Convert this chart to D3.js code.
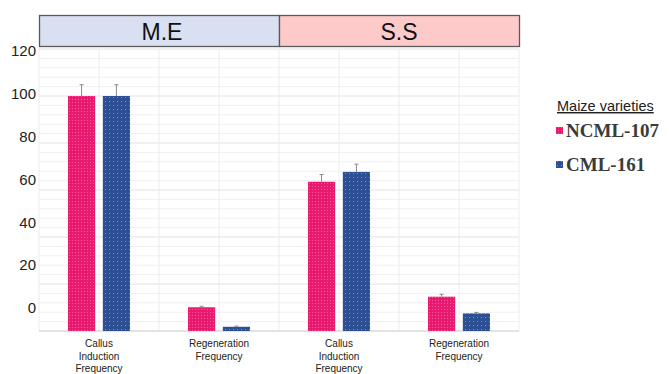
<!DOCTYPE html>
<html>
<head>
<meta charset="utf-8">
<script src="https://cdn.jsdelivr.net/npm/d3@7"></script>
<style>
  html, body { margin: 0; padding: 0; background: #fff; }
  svg { display: block; font-family: "Liberation Sans", Arial, sans-serif; }
  .legend-item { font-family: "Liberation Serif", "Times New Roman", serif; font-weight: bold; }
</style>
</head>
<body>
<svg id="chart" width="669" height="374"></svg>
<script>
// Callus induction and regeneration frequencies for two maize varieties
const categories = [
  ["Callus", "Induction", "Frequency"],
  ["Regeneration", "Frequency"],
  ["Callus", "Induction", "Frequency"],
  ["Regeneration", "Frequency"]
];
const panels = ["M.E", "S.S"];
const varieties = ["NCML-107", "CML-161"];
const ncml107 = [100, 10.1, 63.5, 14.6];
const cml161 = [100, 1.8, 67.7, 7.5];
const ncml107Err = [4.8, 0.4, 3.1, 1.0];
const cml161Err = [4.8, 0.3, 3.3, 0.4];
const yTicks = [0, 20, 40, 60, 80, 100, 120];
const legendTitle = "Maize varieties";

const colors = { "NCML-107": "url(#dotPink)", "CML-161": "url(#dotBlue)" };
const panelFill = ["#d8e0f1", "#fdc9c9"];

const svg = d3.select("#chart");
const plotL = 39, plotR = 519, plotT = 49, plotB = 331;

// Dotted fills for the bars
const defs = svg.append("defs");
const pPink = defs.append("pattern").attr("id", "dotPink")
  .attr("width", 3).attr("height", 3).attr("patternUnits", "userSpaceOnUse");
pPink.append("rect").attr("width", 3).attr("height", 3).attr("fill", "#e8196f");
pPink.append("rect").attr("width", 1).attr("height", 1).attr("fill", "#f0609a");
const pBlue = defs.append("pattern").attr("id", "dotBlue")
  .attr("width", 4).attr("height", 4).attr("patternUnits", "userSpaceOnUse");
pBlue.append("rect").attr("width", 4).attr("height", 4).attr("fill", "#2c5093");
pBlue.append("rect").attr("x", 1).attr("y", 1).attr("width", 1).attr("height", 1).attr("fill", "#7d96c4");

const x0 = d3.scaleBand().domain(d3.range(categories.length)).range([plotL, plotR]).padding(0);
const x1 = d3.scaleBand().domain(varieties).range([-31, 31]).paddingInner(0.22);
const y = d3.scaleLinear().domain([0, 120]).range([plotB, plotT]);
// tick labels sit on their own scale
const yLab = d3.scaleLinear().domain([0, 120]).range([308, 51]);

// Grid
const grid = svg.append("g");
const minor = d3.range(0, 121, 4);
grid.selectAll("line.h").data(minor).join("line")
  .attr("x1", plotL).attr("x2", plotR)
  .attr("y1", d => y(d)).attr("y2", d => y(d))
  .attr("stroke", d => d % 20 === 0 ? "#e2e2e2" : "#f0f0f0")
  .attr("stroke-width", 1);
const vlines = [];
x0.domain().forEach(i => { vlines.push(x0(i)); vlines.push(x0(i) + x0.bandwidth() / 2); });
vlines.push(plotR);
grid.selectAll("line.v").data(vlines).join("line")
  .attr("x1", d => d).attr("x2", d => d)
  .attr("y1", plotT).attr("y2", plotB)
  .attr("stroke", "#ececec").attr("stroke-width", 1);
grid.append("line").attr("x1", plotL).attr("x2", plotR)
  .attr("y1", y(0)).attr("y2", y(0)).attr("stroke", "#d6d6d6");

// Panel header strip
const panelX = d3.scaleBand().domain(panels).range([plotL, plotR]);
const hdr = svg.append("g");
hdr.selectAll("rect").data(panels).join("rect")
  .attr("x", d => panelX(d) + 0.5).attr("y", 15.5)
  .attr("width", panelX.bandwidth()).attr("height", 31)
  .attr("fill", (d, i) => panelFill[i]).attr("stroke", "#5a5a5a").attr("stroke-width", 1.3);
hdr.selectAll("text").data(panels).join("text")
  .attr("x", (d, i) => panelX(d) + panelX.bandwidth() / 2 + (i === 0 ? 3 : 0))
  .attr("y", 40)
  .attr("text-anchor", "middle")
  .attr("font-size", 23)
  .attr("fill", "#111")
  .text(d => d);

// Y axis labels
const yAxis = d3.axisLeft(yLab).tickValues(yTicks).tickSize(0).tickPadding(0);
const ya = svg.append("g").attr("transform", "translate(36,0)").call(yAxis);
ya.select(".domain").remove();
ya.attr("font-family", null).attr("font-size", null);
ya.selectAll("text").attr("font-size", 15).attr("fill", "#222");

// Bars
const series = [
  { name: "NCML-107", values: ncml107, err: ncml107Err },
  { name: "CML-161", values: cml161, err: cml161Err }
];
const bars = [];
series.forEach(s => s.values.forEach((v, i) => bars.push({ name: s.name, i, v, e: s.err[i] })));
const bx = d => x0(d.i) + x0.bandwidth() / 2 + x1(d.name);

svg.append("g").selectAll("rect").data(bars).join("rect")
  .attr("x", d => bx(d)).attr("y", d => y(d.v))
  .attr("width", x1.bandwidth()).attr("height", d => y(0) - y(d.v))
  .attr("fill", d => colors[d.name]);

// Error bars (upper whisker)
const eb = svg.append("g").attr("stroke", "#8a8a8a").attr("stroke-width", 1);
eb.selectAll("line.w").data(bars).join("line")
  .attr("x1", d => bx(d) + x1.bandwidth() / 2).attr("x2", d => bx(d) + x1.bandwidth() / 2)
  .attr("y1", d => y(d.v)).attr("y2", d => y(d.v + d.e));
eb.selectAll("line.c").data(bars).join("line")
  .attr("x1", d => bx(d) + x1.bandwidth() / 2 - 2).attr("x2", d => bx(d) + x1.bandwidth() / 2 + 2)
  .attr("y1", d => y(d.v + d.e)).attr("y2", d => y(d.v + d.e));

// Category labels
const cat = svg.append("g");
categories.forEach((lines, i) => {
  const t = cat.append("text")
    .attr("x", x0(i) + x0.bandwidth() / 2)
    .attr("y", 347)
    .attr("text-anchor", "middle")
    .attr("font-size", 10)
    .attr("fill", "#222");
  lines.forEach((ln, k) => t.append("tspan")
    .attr("x", x0(i) + x0.bandwidth() / 2).attr("dy", k === 0 ? 0 : 12.5).text(ln));
});

// Legend
const lg = svg.append("g");
lg.append("text").attr("x", 557).attr("y", 111).attr("font-size", 14.5).attr("fill", "#222")
  .attr("text-decoration", "underline").text(legendTitle);
const ly = d3.scaleBand().domain(varieties).range([113, 181]);
const li = lg.selectAll("g.item").data(varieties).join("g")
  .attr("transform", d => `translate(0,${ly(d) + ly.bandwidth() / 2})`);
li.append("rect").attr("x", 556).attr("y", -3).attr("width", 7).attr("height", 7)
  .attr("fill", d => colors[d]);
li.append("text").attr("class", "legend-item").attr("x", 566).attr("y", 6.5)
  .attr("font-size", 19).attr("fill", "#3b3b3b")
  .text(d => d);
</script>
</body>
</html>
